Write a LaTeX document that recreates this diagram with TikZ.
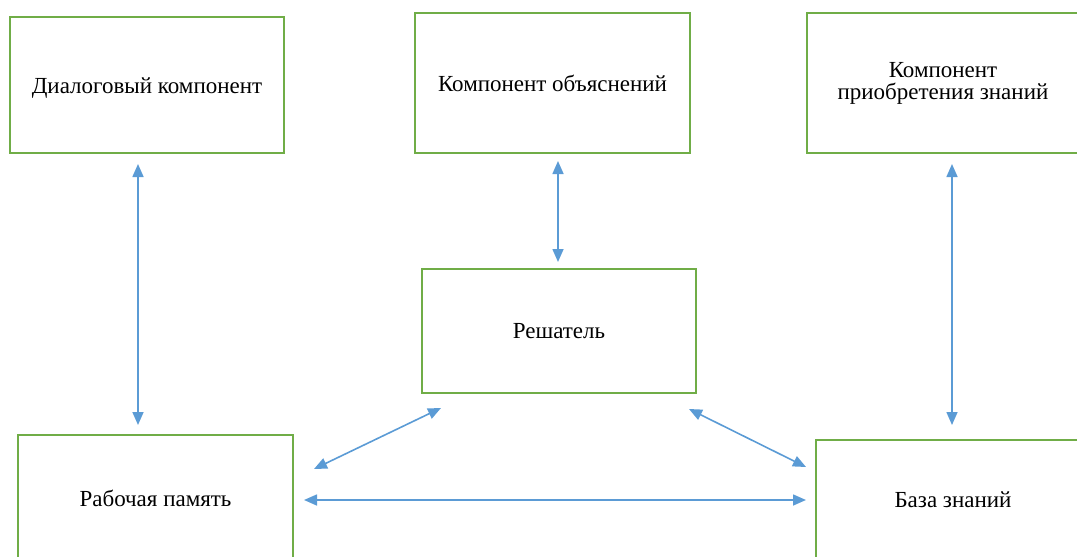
\documentclass[tikz,border=0pt]{standalone}
\usepackage{fontspec}
\setmainfont{Liberation Serif}
\usetikzlibrary{arrows.meta,calc}
\definecolor{boxgreen}{RGB}{112,173,71}
\definecolor{linkblue}{RGB}{91,155,213}
\tikzset{
  block/.style={draw=boxgreen, line width=2pt, fill=white, minimum width=274pt,
    inner sep=0pt, align=center, font=\fontsize{23}{22}\selectfont},
  link/.style={draw=linkblue, line width=1.6pt,
    {Triangle[length=13pt,width=11pt]}-{Triangle[length=13pt,width=11pt]}}
}
\begin{document}
\begin{tikzpicture}[x=1pt,y=-1pt]
  \useasboundingbox (0,0) rectangle (1077,557);
  \clip (0,0) rectangle (1077,557);
  % top row
  \node[block, minimum height=136pt] (dlg) at (147,85) {\raisebox{-8pt}[0pt][0pt]{Диалоговый компонент}};
  \node[block, minimum width=275pt, minimum height=140pt] (expl) at (552.5,83) {Компонент объяснений};
  \node[block, minimum width=272pt, minimum height=140pt] (acq) at (943,83) {Компонент\\приобретения знаний};
  % solver
  \node[block, minimum height=124pt] (slv) at (559,331) {Решатель};
  % bottom row
  \node[block, minimum width=275pt, minimum height=126pt] (wm) at (155.5,498) {Рабочая память};
  \node[block, minimum height=120pt] (kb) at (953,500) {База знаний};
  % vertical link positions
  \coordinate (xa) at (138,0);
  \coordinate (xb) at (558,0);
  \coordinate (xc) at (952,0);
  % connectors
  \draw[link] ($(dlg.south -| xa)+(0,10)$) -- ($(wm.north -| xa)+(0,-9)$);
  \draw[link] ($(expl.south -| xb)+(0,7)$) -- ($(slv.north -| xb)+(0,-6)$);
  \draw[link] ($(acq.south -| xc)+(0,10)$) -- ($(kb.north -| xc)+(0,-14)$);
  \draw[link] ($(slv.south west)+(20,14)$) -- ($(wm.north east)+(20,35)$);
  \draw[link] ($(slv.south east)+(-8,15)$) -- ($(kb.north west)+(-9,28)$);
  \draw[link] ($(wm.north east)+(10,66)$) -- ($(kb.north west)+(-9,61)$);
\end{tikzpicture}
\end{document}
